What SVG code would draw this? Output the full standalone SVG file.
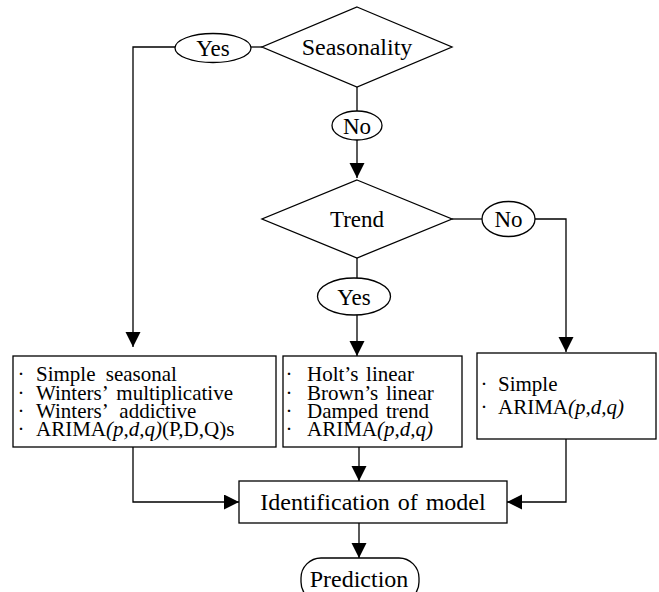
<svg xmlns="http://www.w3.org/2000/svg" width="659" height="592" viewBox="0 0 659 592">
  <style>
    .shape { fill: #fff; stroke: #000; stroke-width: 1.3; }
    .wire { fill: none; stroke: #000; stroke-width: 1.3; }
    text { font-family: "Liberation Serif", "Times New Roman", serif; fill: #000; }
    .lbl { font-size: 23px; text-anchor: middle; }
    .big { font-size: 24px; text-anchor: middle; }
    .item { font-size: 21px; }
    .it { font-style: italic; }
  </style>
  <defs>
    <marker id="arrow" markerUnits="userSpaceOnUse" markerWidth="16" markerHeight="16" refX="15" refY="7.5" orient="auto">
      <path d="M0,0 L15,7.5 L0,15 z" fill="#000"/>
    </marker>
  </defs>
  <rect width="659" height="592" fill="#fff"/>

  <g id="connectors">
    <path class="wire" d="M262,47 H251"/>
    <path class="wire" d="M175,47 H133 V347" marker-end="url(#arrow)"/>
    <path class="wire" d="M357,87 V111"/>
    <path class="wire" d="M357,140 V178" marker-end="url(#arrow)"/>
    <path class="wire" d="M452,219 H482"/>
    <path class="wire" d="M535,219 H566 V352" marker-end="url(#arrow)"/>
    <path class="wire" d="M357,258 V278"/>
    <path class="wire" d="M357,315 V356" marker-end="url(#arrow)"/>
    <path class="wire" d="M133,447 V502 H239" marker-end="url(#arrow)"/>
    <path class="wire" d="M359,447 V481" marker-end="url(#arrow)"/>
    <path class="wire" d="M566,439 V502 H507" marker-end="url(#arrow)"/>
    <path class="wire" d="M359,523 V558" marker-end="url(#arrow)"/>
  </g>

  <g id="seasonality">
    <polygon class="shape" points="357,7 452,47 357,87 262,47"/>
    <text class="big" x="357" y="55">Seasonality</text>
  </g>
  <g id="season-yes">
    <ellipse class="shape" cx="213" cy="48" rx="38" ry="14.5"/>
    <text class="lbl" x="213" y="56">Yes</text>
  </g>
  <g id="season-no">
    <ellipse class="shape" cx="357" cy="125.5" rx="25" ry="14.5"/>
    <text class="lbl" x="357" y="133.5">No</text>
  </g>
  <g id="trend">
    <polygon class="shape" points="357,180 452,219 357,258 262,219"/>
    <text class="lbl" x="357" y="227">Trend</text>
  </g>
  <g id="trend-no">
    <ellipse class="shape" cx="508.5" cy="219" rx="26.5" ry="17.5"/>
    <text class="lbl" x="508.5" y="227">No</text>
  </g>
  <g id="trend-yes">
    <ellipse class="shape" cx="354" cy="296.5" rx="36.5" ry="18.5"/>
    <text class="lbl" x="354" y="304.5">Yes</text>
  </g>

  <g id="seasonal-models">
    <rect class="shape" x="13" y="356" width="263" height="91"/>
    <text class="item" y="381"><tspan x="17.5">·</tspan><tspan x="36" word-spacing="5">Simple seasonal</tspan></text>
    <text class="item" y="399.5"><tspan x="17.5">·</tspan><tspan x="36" word-spacing="4">Winters’ multiplicative</tspan></text>
    <text class="item" y="418"><tspan x="17.5">·</tspan><tspan x="36" word-spacing="7">Winters’ addictive</tspan></text>
    <text class="item" y="436"><tspan x="17.5">·</tspan><tspan x="36">ARIMA<tspan class="it">(p,d,q)</tspan>(P,D,Q)s</tspan></text>
  </g>
  <g id="trend-models">
    <rect class="shape" x="283" y="356" width="179" height="91"/>
    <text class="item" y="381"><tspan x="285.5">·</tspan><tspan x="307" word-spacing="2.5">Holt’s linear</tspan></text>
    <text class="item" y="399.5"><tspan x="285.5">·</tspan><tspan x="307" word-spacing="2.5">Brown’s linear</tspan></text>
    <text class="item" y="418"><tspan x="285.5">·</tspan><tspan x="307" word-spacing="2.5">Damped trend</tspan></text>
    <text class="item" y="436"><tspan x="285.5">·</tspan><tspan x="307">ARIMA<tspan class="it">(p,d,q)</tspan></tspan></text>
  </g>
  <g id="plain-models">
    <rect class="shape" x="477" y="353" width="179" height="86"/>
    <text class="item" y="391"><tspan x="480.5">·</tspan><tspan x="498">Simple</tspan></text>
    <text class="item" y="414"><tspan x="480.5">·</tspan><tspan x="498">ARIMA<tspan class="it">(p,d,q)</tspan></tspan></text>
  </g>

  <g id="identification">
    <rect class="shape" x="239" y="481" width="268" height="42"/>
    <text class="big" x="373" y="510" word-spacing="2">Identification of model</text>
  </g>
  <g id="prediction">
    <rect class="shape" x="301" y="558" width="118" height="44" rx="20" ry="20"/>
    <text class="big" x="359" y="587">Prediction</text>
  </g>
</svg>
